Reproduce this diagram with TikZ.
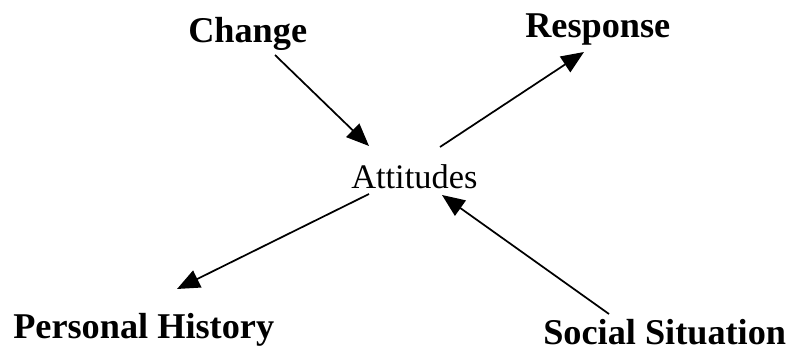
\documentclass[tikz,border=0pt]{standalone}
\usepackage{fontspec}
\setmainfont{Liberation Serif}
\usetikzlibrary{positioning,arrows.meta}

\begin{document}
\begin{tikzpicture}[x=0.75pt,y=-0.75pt,
  lbl/.style={font=\fontsize{27.2}{30}\selectfont\bfseries, inner sep=0pt, anchor=base west},
  mid/.style={font=\fontsize{25.8}{28}\selectfont, inner sep=0pt, anchor=base west},
  conn/.style={line width=1.3pt, -{Triangle[length=17pt,width=14pt]}}]
\useasboundingbox (0,0) rectangle (794,350);
% labels
\node[lbl] (change) at (188,42) {Change};
\node[lbl] (response) at (525,37) {Response};
\node[mid] (attitudes) at (351,188) {Attitudes};
\node[lbl] (history) at (13,338) {Personal History};
\node[lbl] (social) at (543,344) {Social Situation};
% ends of the arrows
\coordinate (chg-out) at (275,55);
\coordinate (att-in1) at (369,146);
\coordinate (att-out1) at (440,147);
\coordinate (rsp-in) at (584,52);
\coordinate (att-out2) at (369,194);
\coordinate (hist-in) at (177,289);
\coordinate (soc-out) at (609,314);
\coordinate (att-in2) at (442,195);
\draw[conn] (chg-out) -- (att-in1);
\draw[conn] (att-out1) -- (rsp-in);
\draw[conn] (att-out2) -- (hist-in);
\draw[conn] (soc-out) -- (att-in2);
\end{tikzpicture}
\end{document}
